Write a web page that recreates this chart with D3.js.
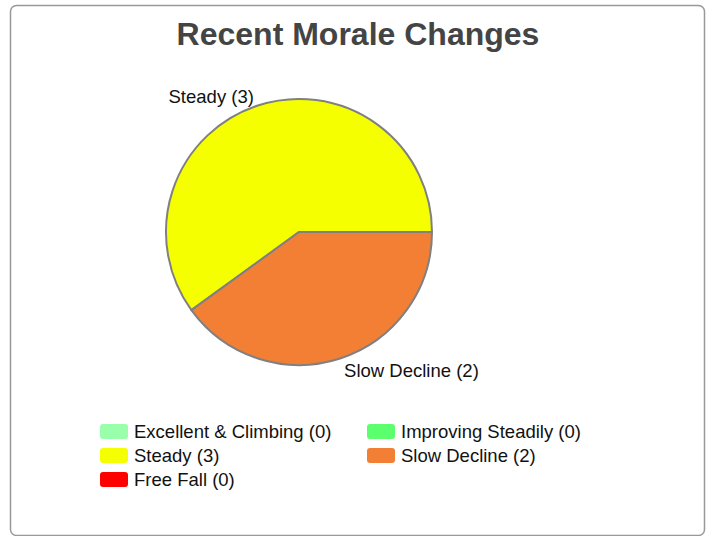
<!DOCTYPE html>
<html>
<head>
<meta charset="utf-8">
<script src="https://cdn.jsdelivr.net/npm/d3@7/dist/d3.min.js"></script>
<style>
  html, body { margin: 0; padding: 0; background: #fff; }
  svg { display: block; font-family: "Liberation Sans", Arial, sans-serif; }
</style>
</head>
<body>
<svg id="chart" width="712" height="536"></svg>
<script>
// Morale categories and their counts
const categories = ["Excellent & Climbing", "Improving Steadily", "Steady", "Slow Decline", "Free Fall"];
const counts = [0, 0, 3, 2, 0];
const colors = ["#99ffaa", "#5cff6e", "#f5ff00", "#f37f35", "#ff0000"];
const title = "Recent Morale Changes";

const data = categories.map((c, i) => ({ name: c, value: counts[i], color: colors[i] }));

const svg = d3.select("#chart");

// Panel frame
svg.append("rect")
  .attr("x", 10.5).attr("y", 5.5)
  .attr("width", 694).attr("height", 530)
  .attr("rx", 6).attr("ry", 6)
  .attr("fill", "#fff")
  .attr("stroke", "#999")
  .attr("stroke-width", 1.5);

// Title
svg.append("text")
  .attr("x", 358).attr("y", 45)
  .attr("text-anchor", "middle")
  .attr("font-size", 32)
  .attr("font-weight", "bold")
  .attr("fill", "#444")
  .text(title);

// Pie: slices are laid out clockwise starting at 3 o'clock, largest first
const cx = 299, cy = 232, radius = 133;
const pie = d3.pie()
  .value(d => d.value)
  .sort((a, b) => a.value - b.value)
  .startAngle(Math.PI / 2)
  .endAngle(Math.PI / 2 + 2 * Math.PI);

const arcs = pie(data.filter(d => d.value > 0));
const arc = d3.arc().innerRadius(0).outerRadius(radius);
const labelArc = d3.arc().innerRadius(146).outerRadius(146);

const g = svg.append("g").attr("transform", `translate(${cx},${cy})`);

g.selectAll("path.slice")
  .data(arcs)
  .join("path")
  .attr("class", "slice")
  .attr("d", arc)
  .attr("fill", d => d.data.color)
  .attr("stroke", "#808080")
  .attr("stroke-width", 2)
  .attr("stroke-linejoin", "round");

// Slice labels outside the pie
g.selectAll("text.lbl")
  .data(arcs)
  .join("text")
  .attr("class", "lbl")
  .each(function (d) {
    const [x, y] = labelArc.centroid(d);
    const mid = (d.startAngle + d.endAngle) / 2;
    const right = Math.sin(mid) > 0;
    const upper = Math.cos(mid) > 0;
    d3.select(this)
      .attr("x", x).attr("y", y)
      .attr("dy", upper ? "0.53em" : "0.32em")
      .attr("text-anchor", right ? "start" : "end");
  })
  .attr("font-size", 18.5)
  .attr("fill", "#111")
  .text(d => `${d.data.name} (${d.data.value})`);

// Legend: two columns, rows top to bottom
const legend = svg.append("g");
const colX = [100, 367], rowY0 = 424, rowStep = 24;
const items = legend.selectAll("g.item")
  .data(data)
  .join("g")
  .attr("class", "item")
  .attr("transform", (d, i) => `translate(${colX[i % 2]},${rowY0 + Math.floor(i / 2) * rowStep})`);

items.append("rect")
  .attr("width", 28).attr("height", 15)
  .attr("rx", 3).attr("ry", 3)
  .attr("fill", d => d.color);

items.append("text")
  .attr("x", 34).attr("y", 13.5)
  .attr("font-size", 18.5)
  .attr("fill", "#111")
  .text(d => `${d.name} (${d.value})`);
</script>
</body>
</html>
